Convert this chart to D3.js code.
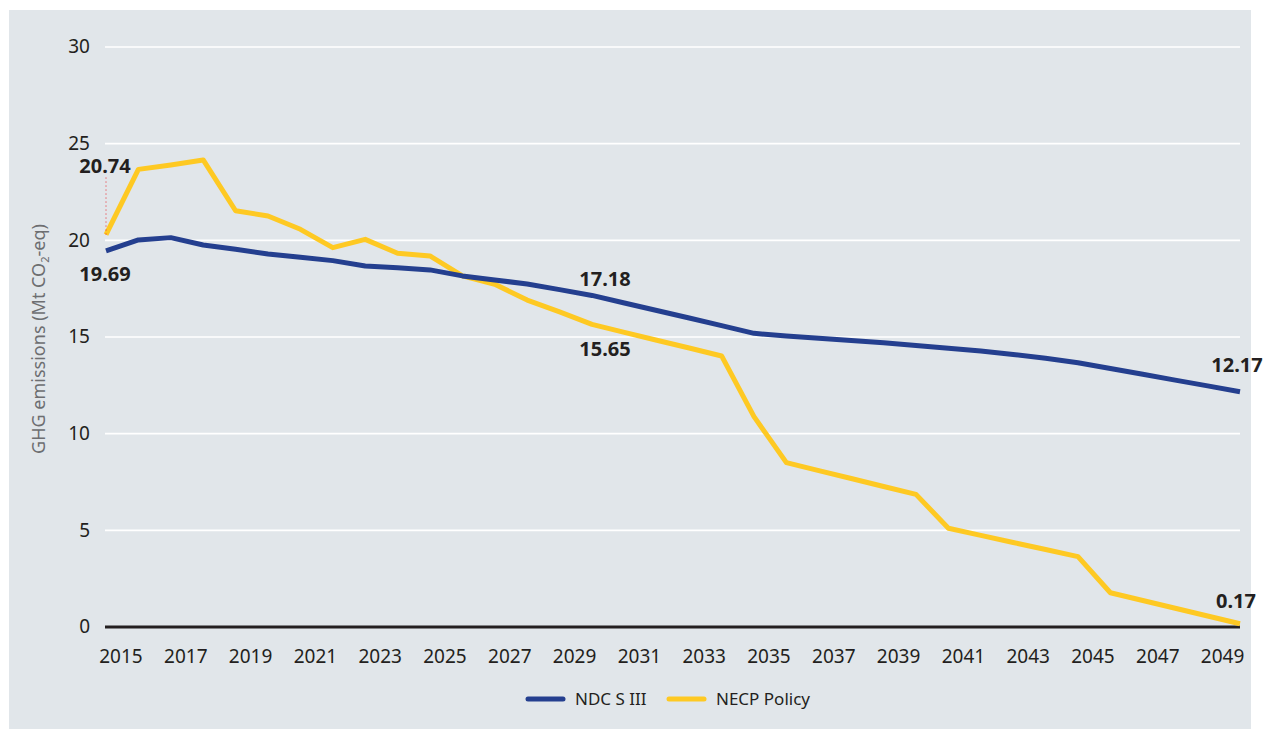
<!DOCTYPE html>
<html>
<head>
<meta charset="utf-8">
<script src="https://cdn.jsdelivr.net/npm/d3@7"></script>
<style>
  body { margin: 0; background: #ffffff; }
  svg { display: block; font-family: "Noto Sans", sans-serif; }
</style>
</head>
<body>
<div id="chart"></div>
<script>
// years on the x axis
const years = [2015, 2016, 2017, 2018, 2019, 2020, 2021, 2022, 2023, 2024,
               2025, 2026, 2027, 2028, 2029, 2030, 2031, 2032, 2033, 2034,
               2035, 2036, 2037, 2038, 2039, 2040, 2041, 2042, 2043, 2044,
               2045, 2046, 2047, 2048, 2049, 2050];

// GHG emissions, Mt CO2-eq
const ndcValues = [19.45, 20.02, 20.14, 19.76, 19.54, 19.29, 19.12, 18.95, 18.67, 18.58,
                   18.47, 18.16, 17.95, 17.74, 17.45, 17.15, 16.76, 16.37, 15.98, 15.59,
                   15.19, 15.05, 14.93, 14.82, 14.70, 14.56, 14.42, 14.27, 14.10, 13.90,
                   13.67, 13.37, 13.07, 12.77, 12.47, 12.17];
const necpValues = [20.30, 23.67, 23.90, 24.16, 21.53, 21.26, 20.57, 19.62, 20.05, 19.33,
                    19.19, 18.16, 17.73, 16.91, 16.30, 15.65, 15.24, 14.83, 14.43, 14.02,
                    10.88, 8.50, 8.09, 7.68, 7.27, 6.86, 5.11, 4.74, 4.37, 4.01,
                    3.64, 1.77, 1.37, 0.97, 0.57, 0.17];

const seriesNames = ["NDC S III", "NECP Policy"];
const yTicks = [0, 5, 10, 15, 20, 25, 30];
const xTickYears = [2015, 2017, 2019, 2021, 2023, 2025, 2027, 2029, 2031, 2033,
                    2035, 2037, 2039, 2041, 2043, 2045, 2047, 2049];

// value callouts: which series, which year, what text
const labelSeries = [1, 0, 0, 1, 0, 1];
const labelYears = [2015, 2015, 2030, 2030, 2050, 2050];
const labelTexts = ["20.74", "19.69", "17.18", "15.65", "12.17", "0.17"];

function drawChart() {
  const width = 1266, height = 729;
  const colors = ["#243f8f", "#fec923"];
  const ink = "#231f20";

  const svg = d3.select("#chart").append("svg")
      .attr("width", width)
      .attr("height", height);

  // grey panel
  svg.append("rect")
      .attr("x", 9).attr("y", 10)
      .attr("width", 1242).attr("height", 719)
      .attr("fill", "#e1e6ea");

  const x = d3.scaleLinear().domain([2015, 2050]).range([106, 1240]);
  const y = d3.scaleLinear().domain([0, 30]).range([627, 47]);

  // gridlines
  svg.append("g")
    .selectAll("line")
    .data(yTicks.filter(d => d > 0))
    .enter().append("line")
      .attr("x1", 105).attr("x2", 1240)
      .attr("y1", d => y(d)).attr("y2", d => y(d))
      .attr("stroke", "#ffffff")
      .attr("stroke-width", 1.6);

  // y tick labels
  svg.append("g")
    .selectAll("text")
    .data(yTicks)
    .enter().append("text")
      .attr("x", 90)
      .attr("y", d => y(d))
      .attr("dy", "0.34em")
      .attr("text-anchor", "end")
      .attr("font-size", "19px")
      .attr("fill", ink)
      .text(d => d);

  // x tick labels
  svg.append("g")
    .selectAll("text")
    .data(xTickYears)
    .enter().append("text")
      .attr("x", d => x(d) + 15)
      .attr("y", y(0) + 36)
      .attr("text-anchor", "middle")
      .attr("font-size", "19px")
      .attr("fill", ink)
      .text(d => d);

  // y axis title
  const title = svg.append("text")
      .attr("transform", "translate(45,339) rotate(-90)")
      .attr("text-anchor", "middle")
      .attr("font-size", "18px")
      .attr("fill", "#6d6e71");
  title.append("tspan").text("GHG emissions (Mt CO");
  title.append("tspan").attr("font-size", "11px").attr("dy", "4").text("2");
  title.append("tspan").attr("dy", "-4").text("-eq)");

  // zero line
  svg.append("line")
      .attr("x1", 105).attr("x2", 1240)
      .attr("y1", y(0)).attr("y2", y(0))
      .attr("stroke", ink)
      .attr("stroke-width", 3);

  const line = d3.line()
      .x((d, i) => x(years[i]))
      .y(d => y(d));

  const series = [ndcValues, necpValues];

  // draw NECP first so NDC sits on top where they cross
  [1, 0].forEach(s => {
    svg.append("path")
        .datum(series[s])
        .attr("d", line)
        .attr("fill", "none")
        .attr("stroke", colors[s])
        .attr("stroke-width", 5)
        .attr("stroke-linejoin", "round");
  });

  // red dotted leader for the first NECP callout
  svg.append("line")
      .attr("x1", x(2015)).attr("x2", x(2015))
      .attr("y1", y(necpValues[0]) - 57).attr("y2", y(necpValues[0]))
      .attr("stroke", "#e8262b")
      .attr("stroke-width", 1)
      .attr("stroke-dasharray", "1,3");

  // callout offsets relative to the point they describe
  const offsets = [[-1, -62], [-1, 30], [13, -9], [13, 32], [-3, -20], [-4, -16]];

  svg.append("g")
    .selectAll("text")
    .data(labelTexts)
    .enter().append("text")
      .attr("x", (d, i) => x(labelYears[i]) + offsets[i][0])
      .attr("y", (d, i) => {
        const vals = series[labelSeries[i]];
        return y(vals[years.indexOf(labelYears[i])]) + offsets[i][1];
      })
      .attr("text-anchor", "middle")
      .attr("font-size", "20px")
      .attr("font-weight", "bold")
      .attr("fill", ink)
      .text(d => d);

  // legend
  const legendX = [528, 669];
  const legend = svg.append("g")
    .selectAll("g")
    .data(seriesNames)
    .enter().append("g")
      .attr("transform", (d, i) => "translate(" + legendX[i] + ",699)");

  legend.append("line")
      .attr("x1", 0).attr("x2", 35)
      .attr("stroke", (d, i) => colors[i])
      .attr("stroke-width", 5)
      .attr("stroke-linecap", "round");

  legend.append("text")
      .attr("x", 47)
      .attr("y", 6)
      .attr("font-size", "17px")
      .attr("fill", ink)
      .text(d => d);
}

drawChart();
</script>
</body>
</html>
